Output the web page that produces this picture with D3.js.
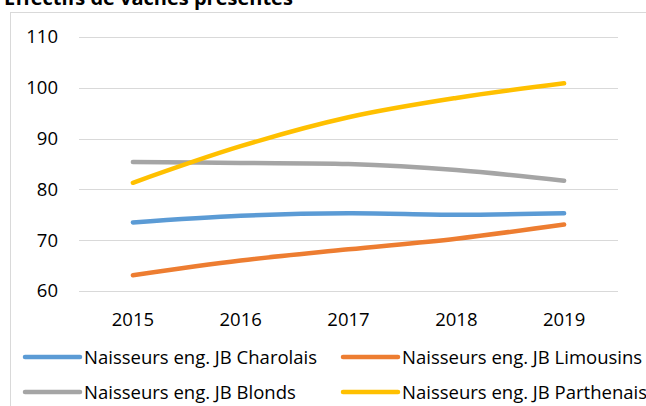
<!DOCTYPE html>
<html>
<head>
<meta charset="utf-8">
<script src="https://cdn.jsdelivr.net/npm/d3@7"></script>
<style>
  body { margin: 0; background: #fff; }
  svg { display: block; font-family: "Open Sans", Lato, sans-serif; }
</style>
</head>
<body>
<div id="chart"></div>
<script>
// data
const years = ["2015", "2016", "2017", "2018", "2019"];
const charolais = [73.5, 74.8, 75.3, 75.0, 75.3];
const limousins = [63.1, 66.0, 68.2, 70.3, 73.1];
const blonds = [85.4, 85.2, 85.0, 83.8, 81.7];
const parthenais = [81.3, 88.5, 94.2, 98.0, 100.9];
const seriesNames = ["Naisseurs eng. JB Charolais", "Naisseurs eng. JB Limousins",
                     "Naisseurs eng. JB Blonds", "Naisseurs eng. JB Parthenais"];
const yTicks = [60, 70, 80, 90, 100, 110];

const series = [charolais, limousins, blonds, parthenais];
const colors = ["#5B9BD5", "#ED7D31", "#A5A5A5", "#FFC000"];
const FONT = "'Open Sans', Lato, sans-serif";
const FS = 18.5;

const W = 646, H = 406;
const svg = d3.select("#chart").append("svg")
  .attr("width", W).attr("height", H);

// title (cut off at top, like the original)
svg.append("text")
  .attr("x", 4).attr("y", 5)
  .attr("font-size", 20).attr("font-weight", "bold")
  .attr("fill", "#000")
  .text("Effectifs de vaches présentes");

// chart border
svg.append("rect")
  .attr("x", 10.5).attr("y", 12.5)
  .attr("width", 640).attr("height", 420)
  .attr("fill", "none").attr("stroke", "#d9d9d9");

const x = d3.scaleBand().domain(years).range([79, 618]);
const y = d3.scaleLinear().domain([60, 110]).range([291, 37]);

// gridlines
svg.append("g").selectAll("line")
  .data(yTicks).enter().append("line")
  .attr("x1", 79).attr("x2", 618)
  .attr("y1", d => Math.round(y(d)) + 0.5)
  .attr("y2", d => Math.round(y(d)) + 0.5)
  .attr("stroke", "#d9d9d9").attr("stroke-width", 1.2);

// y axis labels
const yAxis = svg.append("g")
  .attr("transform", "translate(64,0)")
  .call(d3.axisLeft(y).tickValues(yTicks).tickSize(0).tickPadding(6));
yAxis.select(".domain").remove();
yAxis.selectAll("text").attr("font-size", FS).attr("fill", "#000")
  .attr("font-family", FONT);

// x axis labels
const xAxis = svg.append("g")
  .attr("transform", "translate(0,308)")
  .call(d3.axisBottom(x).tickSize(0).tickPadding(5));
xAxis.select(".domain").remove();
xAxis.selectAll("text").attr("font-size", FS).attr("fill", "#000")
  .attr("font-family", FONT);

// smoothed lines
const line = d3.line()
  .x((d, i) => x(years[i]) + x.bandwidth() / 2)
  .y(d => y(d))
  .curve(d3.curveCatmullRom.alpha(0.5));

svg.append("g").selectAll("path")
  .data(series).enter().append("path")
  .attr("d", d => line(d))
  .attr("fill", "none")
  .attr("stroke", (d, i) => colors[i])
  .attr("stroke-width", 4.5)
  .attr("stroke-linecap", "round")
  .attr("stroke-linejoin", "round");

// legend
const legendPos = [[25, 357], [343, 357], [25, 392], [343, 392]];
const legend = svg.append("g").selectAll("g")
  .data(seriesNames).enter().append("g")
  .attr("transform", (d, i) => `translate(${legendPos[i][0]},${legendPos[i][1]})`);
legend.append("line")
  .attr("x1", 0).attr("x2", 55).attr("y1", 0).attr("y2", 0)
  .attr("stroke", (d, i) => colors[i])
  .attr("stroke-width", 4.5).attr("stroke-linecap", "round");
legend.append("text")
  .attr("x", 59).attr("y", 6.5)
  .attr("font-size", FS).attr("fill", "#000")
  .text(d => d);
</script>
</body>
</html>
